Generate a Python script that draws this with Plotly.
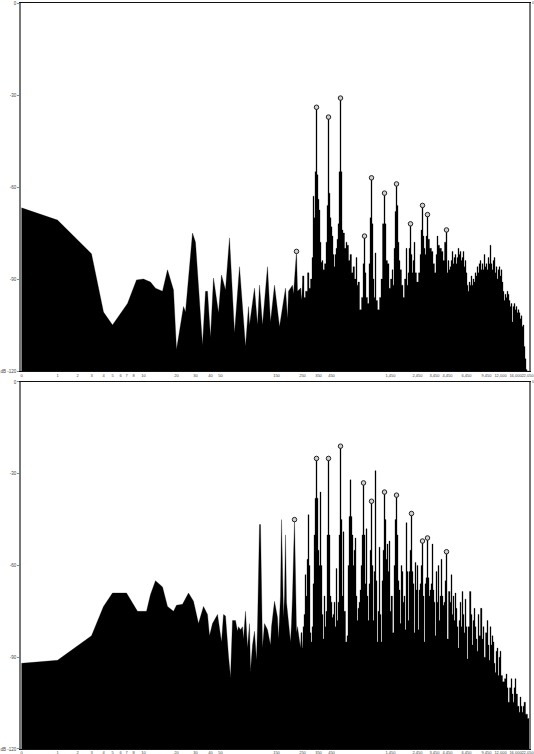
import plotly.graph_objects as go

# Tick labels sit on a warped log-frequency axis, expressed in analyser bins
tick_bins = [21, 57, 77, 91, 103, 112, 120, 126, 133, 143, 176, 195, 210, 220,
             276, 302, 318, 331, 390, 417, 434, 447, 466, 486, 500, 515, 527]
tick_labels = ["0", "1", "2", "3", "4", "5", "6", "7", "8", "10", "20", "30", "40", "50",
               "150", "250", "350", "450", "1,450", "2,450", "3,450", "4,450", "6,450",
               "9,450", "12,000", "16,000", "22,050"]
db_ticks = [0, -30, -60, -90, -120]
db_labels = ["0", "-30", "-60", "-90", "dB -120"]

top_bins = [
 21,57,91,103,112,127,136,143,150,155,162,167,173,176,183,185,192,195,202,205,
 207,210,213,218,221,225,229,234,239,245,248,249,254,257,259,262,267,270,274,279,
 285,287,288,292,293,296,297,300,301,303,304,306,308,309,311,312,313,314,315,316,
 317,318,319,320,321,322,323,325,326,327,328,329,330,331,332,333,334,335,336,337,
 338,339,340,341,342,343,345,346,347,349,350,352,353,355,356,357,358,360,362,363,
 364,365,366,368,369,370,371,372,373,374,375,376,378,380,381,383,384,385,386,388,
 389,391,392,393,394,395,396,397,398,399,400,402,403,405,406,407,408,409,410,411,
 412,413,414,415,417,419,420,421,422,423,424,425,426,427,428,430,432,433,435,436,
 437,438,440,442,443,445,446,447,448,449,450,451,452,453,454,455,456,457,458,459,
 460,461,462,463,464,465,466,467,468,469,470,471,472,473,474,475,476,477,478,479,
 480,481,482,483,484,485,486,487,488,489,490,491,492,493,494,495,496,497,498,499,
 500,501,502,503,504,505,506,507,508,509,510,511,512,513,514,515,516,517,518,519,
 520,521,522,523,524,525,526,527,529]
top_db = [
 -66.8,-70.8,-81.8,-100.8,-105,-98,-90.3,-90,-91,-93,-94,-87,-93.6,-113,-99,-100.8,-75,-78,-111.5,-94,
 -94,-109,-89.7,-101,-88.7,-93.6,-76.6,-107.6,-86,-112,-99,-105,-93,-105,-92,-105,-86,-104,-92,-105.6,
 -93,-103,-94,-92,-95,-81,-94,-93,-97,-89,-96,-94,-88,-93,-90,-83,-63,-70,-55,-34,
 -56,-64,-67.5,-78,-84.5,-84,-87,-85,-78,-66,-37.2,-62,-70,-73,-76,-82,-86,-82,-80,-77,
 -72,-55,-31,-55,-74,-75,-80,-78,-79,-84,-82,-88,-86,-90,-83,-92,-91,-100,-96,-85,
 -76,-88,-96,-98,-85,-70,-57,-72,-90,-96,-81.5,-97,-100,-96,-90,-72,-62,-72,-84,-85,
 -93,-90,-87,-92,-80,-68,-59,-66,-78,-84,-87,-92,-96,-90,-80,-92,-88,-80,-72,-82,
 -88,-84,-78,-88,-91,-88,-82,-74,-66,-76,-80,-82,-76,-69,-77,-80,-81,-85,-88,-82,
 -76,-79,-80,-81,-84,-78,-74,-88,-84,-87,-86,-84,-81,-85,-83,-82,-85,-83,-80,-82,
 -81,-84,-83,-81,-86,-84,-88,-92,-94,-91,-92,-89,-92,-90,-91,-88,-89,-86,-88,-85,
 -84,-87,-85,-87,-82,-86,-85,-87,-83,-85,-79,-85,-87,-84,-83,-88,-86,-90,-87,-86,
 -89,-87,-91,-94,-97,-95,-96,-94,-95,-97,-99,-98,-104,-99,-98,-100,-99,-101,-100,-101,
 -103,-102,-105.5,-105,-112,-116,-119.5,-120,-120]

bottom_bins = [
 21,57,91,103,112,126,137,146,150,155,162,167,173,176,182,188,193,198,203,207,
 209,212,217,221,223,225,228,230,232,235,237,238,240,242,243,245,247,249,250,252,
 254,256,257,258,259,260,261,262,264,267,270,271,274,277,278,280,281,282,283,284,
 285,286,288,290,291,292,294,295,296,297,299,300,301,302,303,304,305,306,307,308,
 309,310,311,312,313,314,315,316,317,318,319,320,321,322,323,324,325,326,327,328,
 329,330,331,332,333,334,335,336,337,338,339,340,341,342,343,344,346,347,348,349,
 350,351,352,353,354,355,356,357,358,359,360,361,362,363,364,365,366,367,368,369,
 370,371,372,373,374,375,376,377,378,379,380,381,382,383,384,385,386,387,388,389,
 390,391,393,394,395,396,397,398,399,400,401,402,403,404,405,406,407,408,409,410,
 411,412,413,414,415,416,417,418,419,420,421,422,423,424,425,426,427,428,429,430,
 431,432,433,434,435,436,437,438,439,440,441,442,443,444,445,446,447,449,450,451,
 452,453,454,455,456,457,458,459,460,461,462,463,464,465,466,467,468,470,471,472,
 473,474,475,476,477,478,479,481,482,483,484,486,487,488,489,490,491,492,493,494,
 495,496,497,498,499,500,501,503,505,506,507,508,510,511,512,513,514,515,516,518,
 519,520,521,522,523,524,526,528,529]
bottom_db = [
 -92,-91,-83,-73.4,-69,-69,-75,-75,-69.5,-65,-67,-73.4,-75,-73,-72.7,-69,-71.7,-79,-73.4,-76,
 -83,-79,-76,-85,-76,-76.5,-89.6,-96.5,-78,-78,-81.5,-80,-81,-80,-84,-75,-87,-79,-94.5,-86,
 -81.5,-91,-80,-60,-46.6,-46.6,-70,-87,-79,-81,-86,-80,-71.7,-77,-84,-70,-45,-68,-77,-70,
 -50,-72,-78,-85,-79,-70,-45,-72,-82,-80,-84,-87,-82,-87,-80,-76,-63,-70,-58,-43.4,
 -60,-82,-85,-80,-66,-50,-38,-25,-38,-55,-60,-36,-60,-76,-84,-70,-80,-75,-50,-25,
 -50,-70,-72,-77,-76,-72,-80,-61,-78,-72,-50,-21,-45,-70,-49,-75,-85,-83,-60,-44,
 -32,-44,-50,-60,-55,-51,-70,-78,-74,-72,-68,-60,-50,-33,-50,-66,-48,-70,-78,-66,
 -55,-39,-60,-78,-62,-29,-65,-85,-75,-54,-76,-85,-65,-55,-36,-45,-58,-53,-62,-52,
 -75,-70,-82,-60,-45,-37,-50,-65,-68,-79,-60,-62,-72,-70,-81,-46,-62,-78,-62,-55,
 -43,-62,-66,-82,-59,-68,-60,-81,-68,-66,-60,-52,-70,-85,-66,-64,-51,-64,-70,-68,
 -66,-53,-68,-72,-83,-62,-72,-60,-78,-70,-58,-70,-73,-72,-65,-55.5,-84,-68.5,-72,-63,
 -76,-70,-78,-69,-74,-80,-87,-78,-72,-80,-68.5,-76,-82,-71,-80,-90.6,-80,-68.5,-76,-86,
 -78,-74,-80,-84,-88,-76,-83,-74,-84,-80,-90,-82,-78,-86,-91,-80,-86,-83,-85,-92,
 -95,-88,-87,-96,-90,-88,-96,-98,-97,-95.5,-100,-104.7,-100,-97,-102,-104.7,-100,-97,-102,-106,
 -108,-103,-106,-108,-106,-104.7,-108.6,-110,-112]

top_peak_bins = [296, 316, 328, 340, 364, 371, 384, 396, 410, 422, 427, 446]
top_peak_db = [-81, -34, -37.2, -31, -76, -57, -62, -59, -72, -66, -69, -74]
bottom_peak_bins = [294, 316, 328, 340, 363, 371, 384, 396, 411, 422, 427, 446]
bottom_peak_db = [-45, -25, -25, -21, -33, -39, -36, -37, -43, -52, -51, -55.5]

assert len(top_bins) == len(top_db), (len(top_bins), len(top_db))
assert len(bottom_bins) == len(bottom_db), (len(bottom_bins), len(bottom_db))

SMOOTH_END = 300  # below this bin the spectrum is drawn smooth, above as discrete bins

fig = go.Figure()
panels = [("x", "y", top_bins, top_db, top_peak_bins, top_peak_db),
          ("x2", "y2", bottom_bins, bottom_db, bottom_peak_bins, bottom_peak_db)]
for xa, ya, bx, by, px, py in panels:
    n = sum(1 for b in bx if b <= SMOOTH_END)
    # the two sections overlap by a few bins so that no seam shows between them
    sections = [(bx[:n + 2], by[:n + 2], "linear"), (bx[n - 1:], by[n - 1:], "hvh")]
    for sx, sy, shape in sections:
        fig.add_trace(go.Scatter(x=[sx[0], sx[-1]], y=[-120, -120], xaxis=xa, yaxis=ya,
                                 mode="lines", line=dict(width=0, color="black"),
                                 showlegend=False, hoverinfo="skip"))
        fig.add_trace(go.Scatter(x=sx, y=sy, xaxis=xa, yaxis=ya, mode="lines",
                                 line=dict(width=0.3, color="#000000", shape=shape),
                                 fill="tonexty", fillcolor="#000000",
                                 showlegend=False, hoverinfo="skip"))
    fig.add_trace(go.Scatter(x=px, y=py, xaxis=xa, yaxis=ya, mode="markers",
                             marker=dict(symbol="circle", size=4.5, color="#d0d0d0",
                                         line=dict(width=1, color="#222222")),
                             showlegend=False, hoverinfo="skip", cliponaxis=False))

tick_font = dict(family="Liberation Sans", size=4, color="#444444")
ax_x = dict(range=[20.5, 528.5], tickmode="array", tickvals=tick_bins, ticktext=tick_labels,
            tickangle=0, showgrid=False, zeroline=False, showline=True, mirror=True,
            automargin=False, ticklabeloverflow="allow",
            linecolor="#111111", linewidth=1, ticks="", tickfont=tick_font)
ax_y = dict(range=[-120, 0], tickmode="array", tickvals=db_ticks, ticktext=db_labels,
            showgrid=False, zeroline=False, showline=True, mirror=True,
            automargin=False,
            linecolor="#777777", linewidth=1.5, ticks="outside", ticklen=2, tickcolor="#888888",
            tickfont=dict(family="Liberation Sans", size=4.5, color="#444444"))

fig.update_layout(
    width=534, height=754, paper_bgcolor="white", plot_bgcolor="white",
    margin=dict(l=21, r=5, t=3, b=5, autoexpand=False), hovermode=False,
    xaxis=dict(ax_x, anchor="y", domain=[0, 1]),
    yaxis=dict(ax_y, anchor="x", domain=[0.5067, 1]),
    xaxis2=dict(ax_x, anchor="y2", domain=[0, 1], ticklabelstandoff=-1),
    yaxis2=dict(ax_y, anchor="x2", domain=[0, 0.4920]),
    annotations=[
        dict(text="0", xref="paper", yref="paper", x=1, y=1, xanchor="left", yanchor="middle",
             xshift=1, showarrow=False, font=dict(family="Liberation Sans", size=3.5, color="#444444")),
        dict(text="0", xref="paper", yref="paper", x=1, y=0.4920, xanchor="left", yanchor="middle",
             xshift=1, showarrow=False, font=dict(family="Liberation Sans", size=3.5, color="#444444")),
    ],
)
fig.write_html("out.html", config=dict(displayModeBar=False),
               post_script="document.body.style.margin='0';")
